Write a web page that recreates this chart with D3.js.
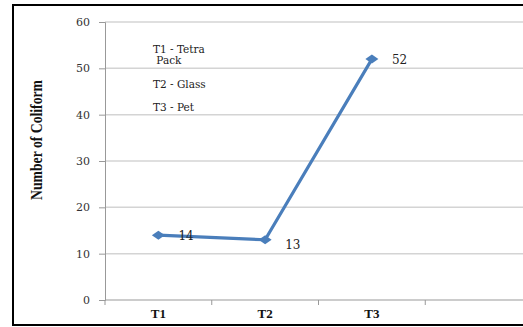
<!DOCTYPE html>
<html><head><meta charset="utf-8">
<script src="https://cdn.jsdelivr.net/npm/d3@7"></script>
<style>body{margin:0;background:#fff}svg{display:block}</style>
</head><body>
<svg id="c" width="523" height="327"></svg>
<script>
const categories = ["T1", "T2", "T3", ""];
const values = [14, 13, 52];
const yTicks = [0, 10, 20, 30, 40, 50, 60];
const legendLines = ["T1 - Tetra", " Pack", "T2 - Glass", "T3 - Pet"];
const yTitle = "Number of Coliform";

const svg = d3.select("#c");
const x = d3.scaleBand().domain(categories).range([105, 532]);
const y = d3.scaleLinear().domain([0, 60]).range([300, 22]);

// border
svg.append("rect").attr("x", 13).attr("y", 5).attr("width", 530).attr("height", 320)
  .attr("fill", "none").attr("stroke", "#000").attr("stroke-width", 2);

// gridlines
svg.append("g").selectAll("line").data(yTicks.filter(d => d > 0)).join("line")
  .attr("x1", 105).attr("x2", 523).attr("y1", d => y(d)).attr("y2", d => y(d))
  .attr("stroke", "#d4d4d4").attr("stroke-width", 1.5);

// y axis
const ya = svg.append("g").attr("transform", "translate(105,0)")
  .call(d3.axisLeft(y).tickValues(yTicks).tickSize(6).tickPadding(9));
ya.select(".domain").attr("stroke", "#999");
ya.selectAll(".tick line").attr("stroke", "#999");
ya.selectAll("text").attr("font-family", "DejaVu Serif, serif").attr("font-size", 11).attr("fill", "#333");

// x axis
const xa = svg.append("g").attr("transform", "translate(0,300)")
  .call(d3.axisBottom(x).tickSize(0).tickPadding(9));
xa.select(".domain").attr("stroke", "#999").attr("d", "M105,0H523");
xa.selectAll("text").attr("font-family", "Liberation Serif, serif").attr("font-weight", "bold")
  .attr("font-size", 13).attr("fill", "#111").attr("dy", "0.71em");
svg.append("g").selectAll("line").data(categories).join("line")
  .attr("x1", d => x(d)).attr("x2", d => x(d)).attr("y1", 300).attr("y2", 305)
  .attr("stroke", "#999");

// y title
svg.append("text").attr("transform", "translate(42,140) rotate(-90)")
  .attr("text-anchor", "middle").attr("font-family", "Liberation Serif, serif")
  .attr("font-weight", "bold").attr("font-size", 16).attr("fill", "#111")
  .attr("textLength", 120).attr("lengthAdjust", "spacingAndGlyphs").text(yTitle);

// line
const pts = values.map((v, i) => [x(categories[i]) + x.bandwidth() / 2, y(v)]);
svg.append("path").attr("d", d3.line()(pts)).attr("fill", "none")
  .attr("stroke", "#4a7ebb").attr("stroke-width", 3.2).attr("stroke-linejoin", "round");
svg.append("g").selectAll("path").data(pts).join("path")
  .attr("d", "M-6.5,0L0,-4.5L6.5,0L0,4.5Z")
  .attr("transform", d => `translate(${d[0]},${d[1]})`).attr("fill", "#4a7ebb");

// data labels
svg.append("g").selectAll("text").data(values).join("text")
  .attr("x", (d, i) => pts[i][0] + 20).attr("y", (d, i) => pts[i][1] + (i === 1 ? 9 : 5))
  .attr("font-family", "DejaVu Serif, serif").attr("font-size", 12).attr("fill", "#222")
  .text(d => d);

// legend text
const ly = [53, 64, 88, 111];
svg.append("g").selectAll("text").data(legendLines).join("text")
  .attr("x", 153).attr("y", (d, i) => ly[i]).attr("xml:space", "preserve")
  .attr("font-family", "DejaVu Serif, serif").attr("font-size", 10.5).attr("fill", "#222")
  .text(d => d);
</script>
</body></html>
